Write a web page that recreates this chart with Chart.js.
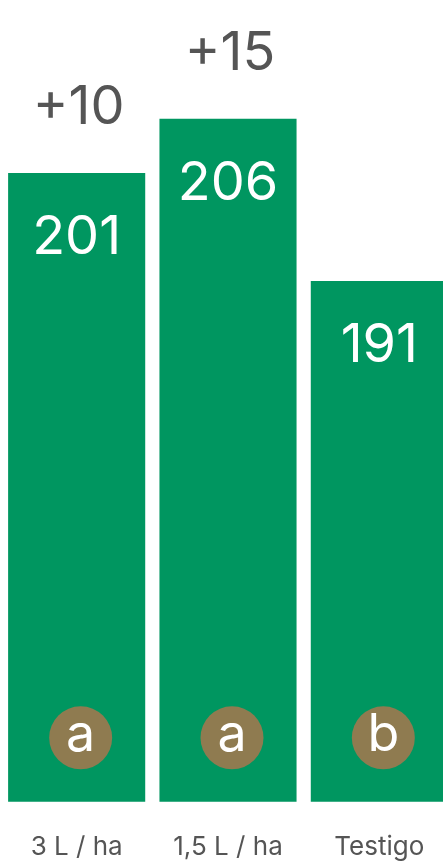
<!DOCTYPE html>
<html>
<head>
<meta charset="utf-8">
<title>Rendimiento</title>
<script src="https://cdn.jsdelivr.net/npm/chart.js@4.4.1/dist/chart.umd.min.js"></script>
<style>
    html, body { margin: 0; padding: 0; background: #fff; overflow: hidden; }
    #wrap { width: 443px; height: 862px; overflow: hidden; }
    canvas { display: block; }
</style>
</head>
<body>
<div id="wrap">
    <canvas id="chart" width="456" height="895"></canvas>
</div>
<script>
// Datos del grafico
const categories = ['3 L / ha', '1,5 L / ha', 'Testigo'];
const values = [201, 206, 191];
const letters = ['a', 'a', 'b'];
const controlIndex = 2; // el testigo es la referencia para las diferencias

const GREEN = '#009660';
const BROWN = '#8f7b50';
const GREY = '#555555';
const FONT = 'Inter, "Noto Sans", sans-serif';

// Dibuja valores, diferencias y letras de significancia sobre las barras
const labelPlugin = {
    id: 'barLabels',
    afterDatasetsDraw(chart) {
        const ctx = chart.ctx;
        const meta = chart.getDatasetMeta(0);
        const bottom = chart.chartArea.bottom;

        ctx.save();
        ctx.textAlign = 'center';
        ctx.textBaseline = 'middle';

        meta.data.forEach((bar, i) => {
            const x = bar.x;
            const top = bar.y;

            // valor dentro de la barra
            ctx.fillStyle = '#ffffff';
            ctx.font = '400 54px ' + FONT;
            ctx.fillText(String(values[i]), x, top + 65);

            // diferencia respecto al testigo
            if (i !== controlIndex) {
                const diff = values[i] - values[controlIndex];
                ctx.fillStyle = GREY;
                ctx.fillText('+' + diff, x + 2, top - 65);
            }

            // circulo con la letra
            const cy = bottom - 64;
            ctx.beginPath();
            ctx.arc(x + 4, cy, 31.5, 0, Math.PI * 2);
            ctx.fillStyle = BROWN;
            ctx.fill();
            ctx.fillStyle = '#ffffff';
            ctx.font = '400 52px ' + FONT;
            ctx.fillText(letters[i], x + 4, cy - 2);
        });

        ctx.restore();
    }
};

const chart = new Chart(document.getElementById('chart'), {
    type: 'bar',
    data: {
        labels: categories,
        datasets: [{
            data: values,
            backgroundColor: GREEN,
            borderWidth: 0,
            categoryPercentage: 1,
            barPercentage: 0.906
        }]
    },
    options: {
        responsive: false,
        animation: false,
        devicePixelRatio: 1,
        layout: {
            padding: { left: 1, right: 1, top: 0, bottom: 2 }
        },
        plugins: {
            legend: { display: false },
            tooltip: { enabled: false }
        },
        scales: {
            x: {
                grid: { display: false, drawTicks: false },
                border: { display: false },
                ticks: {
                    color: GREY,
                    padding: 30,
                    font: { family: FONT, size: 26 }
                }
            },
            y: {
                display: false,
                min: 142.8,
                max: 217
            }
        }
    },
    plugins: [labelPlugin]
});
</script>
</body>
</html>
